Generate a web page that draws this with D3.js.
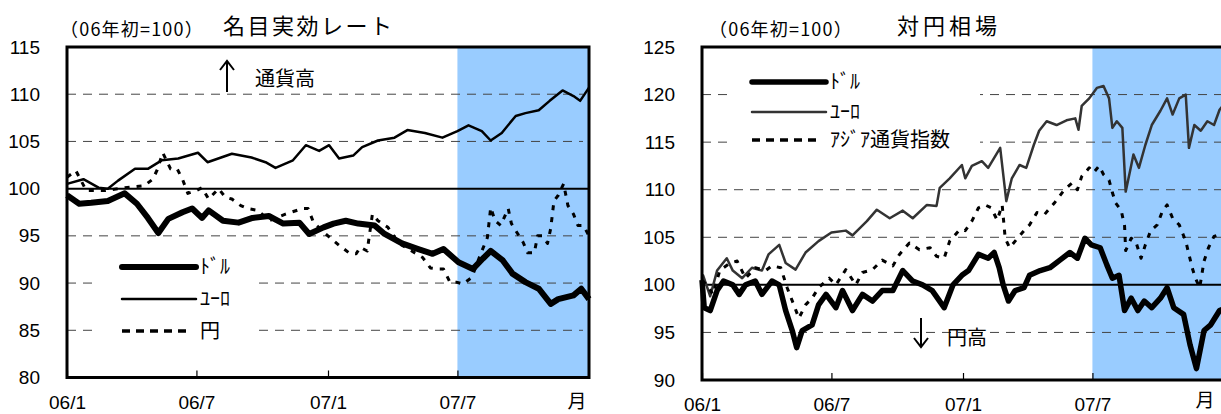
<!DOCTYPE html>
<html><head><meta charset="utf-8">
<script src="https://cdn.jsdelivr.net/npm/d3@7"></script>
<style>
html,body{margin:0;padding:0;background:#fff;}
svg{display:block;}
</style></head>
<body>
<svg id="c" width="1221" height="414"></svg>
<script>
// ---- DATA (months since 2006/1, index = 2006-01 = 0) ----
const yTicksLeft = [80, 85, 90, 95, 100, 105, 110, 115];
const yTicksRight = [90, 95, 100, 105, 110, 115, 120, 125];
const xTickMonths = [0, 6, 12, 18];
const xTickLabels = ["06/1", "06/7", "07/1", "07/7"];
const shadeStartMonth = 18;

// Left: nominal effective rates
const usdNeerM = [0,0.55,1.1,1.93,2.7,3.26,3.77,4.25,4.7,5.35,5.8,6.25,6.55,7.2,7.9,8.55,9.3,9.95,10.7,11.15,11.8,12.25,12.8,13.4,14.2,14.65,15.45,16.2,16.85,17.35,18.05,18.7,19.15,19.5,20.05,20.5,21.1,21.7,22.25,22.6,23.3,23.65,24];
const usdNeerV = [99.3,98.4,98.5,98.7,99.5,98.4,96.9,95.3,96.8,97.5,97.9,96.9,97.7,96.6,96.4,96.9,97.1,96.3,96.4,95.2,95.9,96.3,96.6,96.3,96.1,95.2,94.2,93.6,93.1,93.6,92.2,91.5,92.6,93.4,92.4,91,90.1,89.4,87.8,88.3,88.7,89.4,88.3];
const eurNeerM = [0,0.74,1.47,1.93,2.4,3.17,3.77,4.4,5.15,6.07,6.5,7.6,8.5,9.15,9.6,10.4,11,11.6,12.05,12.5,13.15,13.6,14.35,15.1,15.7,16.5,17.3,18,18.5,19.1,19.5,20,20.65,21.1,21.7,22.2,22.8,23.3,23.6,24];
const eurNeerV = [100.5,101,100.1,100,100.85,102.1,102.1,103,103.2,103.8,102.8,103.7,103.3,102.8,102.2,103,104.6,104,104.6,103.2,103.5,104.4,105.1,105.4,106.2,105.9,105.4,106.1,106.7,106.1,105.1,105.9,107.7,108,108.3,109.3,110.4,109.8,109.3,110.7];
const jpyNeerM = [0,0.4,0.87,1.8,2.7,3.6,4.0,4.2,4.45,4.8,5.1,5.35,5.6,6.0,6.25,6.55,7.0,7.3,7.6,8.0,8.3,8.8,9.3,10.05,10.85,11.1,11.35,11.9,12.5,12.95,13.3,13.5,13.85,14.1,14.35,14.8,15.3,15.9,16.4,16.75,17.1,17.35,17.65,17.95,18.25,18.65,19.05,19.35,19.5,19.7,19.95,20.3,20.45,20.75,21.0,21.2,21.5,21.65,21.85,22.1,22.25,22.4,22.6,22.85,23.05,23.3,23.5,23.75,24];
const jpyNeerV = [101.2,101.9,99.8,99.8,100.1,100.3,101,102,103.8,102.1,102.1,101,99.5,99.8,100.1,98.9,100,99.1,98.9,98.2,97.9,97.7,96.6,97.3,97.9,97.9,96.4,95.2,94,93.2,93.1,93.8,93.4,97.3,96.6,95.9,94.2,93.4,92.7,91.6,91.5,91.5,90.1,90.1,89.9,90.6,93.1,94.8,98,96.6,96.1,97.9,96.3,95.2,94.3,93.2,93.2,95,95,94.2,95.8,98.7,99.3,100.5,98.2,97.3,96.1,96.1,95];

// Right: against yen
const usdJpyM = [0,0.1,0.37,0.68,0.97,1.43,1.75,2.06,2.5,2.8,3.26,3.6,3.9,4.2,4.4,4.65,5.1,5.4,5.75,6.2,6.5,6.95,7.4,7.85,8.3,8.8,9.25,9.7,10.15,10.6,11.15,11.55,11.95,12.25,12.7,13.15,13.45,13.7,13.9,14.15,14.45,14.85,15.1,15.6,16.05,16.5,16.95,17.3,17.65,17.95,18.35,18.65,18.9,19.2,19.45,19.75,20.05,20.35,20.7,21.1,21.4,21.7,22.15,22.45,22.75,23.1,23.4,23.8,24];
const usdJpyV = [100.5,97.6,97.3,99.4,100.4,100,99,100,100.4,99,100.4,100,97.3,95.2,93.4,95.2,95.8,97.9,99,97.6,99.4,97.3,99,98.3,99.4,99.4,101.5,100.4,100,99.4,97.6,100,101,101.5,103.2,102.8,103.4,101.8,100,98.3,99.4,99.7,101,101.5,101.8,102.6,103.4,102.8,104.9,104.2,103.9,102.1,100.7,101,97.3,98.6,97.3,98.3,97.6,98.6,99.7,97.6,96.9,93.7,91.2,95.2,95.8,97.3,97.5];
const eurJpyM = [0,0.05,0.37,0.68,1.13,1.43,1.9,2.35,2.8,3.1,3.6,3.9,4.35,4.8,5.4,6.0,6.65,6.95,7.6,8.05,8.65,9.25,9.7,10.35,10.8,10.95,11.4,11.95,12.1,12.4,12.85,13.15,13.75,14.05,14.3,14.65,14.95,15.3,15.55,15.9,16.35,16.8,17.2,17.35,17.5,17.85,18.2,18.5,18.75,18.9,19.1,19.35,19.5,19.7,19.85,20.1,20.4,20.7,21.1,21.4,21.65,21.95,22.25,22.4,22.65,22.95,23.25,23.55,23.8,24];
const eurJpyV = [100.7,101,98.8,101.5,102.8,101.5,100.7,101.8,101.5,103.2,104.2,102.3,101.6,103.4,104.6,105.5,105.7,105.2,106.7,107.9,107,107.8,107,108.4,108.3,110.2,111.2,112.6,111.2,112.5,113,112.3,114.4,108.8,111.2,112.6,112.3,114.7,116.2,117.2,116.8,117.3,117.5,116.3,118.8,119.6,120.7,120.9,119.6,116.5,117.2,116.5,109.8,112,113.7,112.3,114.7,116.8,118.3,119.6,117.9,119.6,120,114.4,116.8,116.2,117.2,116.8,118.4,119];
const asiaJpyM = [0,0.2,0.5,0.8,1.3,1.65,2.06,2.5,2.97,3.26,3.67,3.97,4.27,4.5,4.8,5.1,5.4,5.9,6.2,6.65,7.1,7.4,7.85,8.3,8.8,9.1,9.55,10.0,10.5,10.8,11.15,11.4,11.85,12.1,12.4,12.7,13.0,13.3,13.6,13.85,14.0,14.2,14.45,14.85,15.1,15.45,15.8,16.25,16.7,17.05,17.3,17.5,17.85,18.05,18.3,18.5,18.75,18.9,19.05,19.3,19.45,19.5,19.75,19.95,20.2,20.4,20.65,20.95,21.2,21.4,21.65,21.95,22.25,22.4,22.55,22.7,22.9,23.1,23.3,23.55,23.8,24];
const asiaJpyV = [100.5,100,99,101.5,102.3,102.5,100.7,101.8,101.5,102,101.8,99.7,97.9,96.5,97.9,98.6,99.7,100.7,100,101.6,100,101.3,101.6,102.6,102,103.2,104.4,103.7,103.9,103,102.8,104.6,105.8,105.7,106.7,108.1,108.4,108.1,106.8,108.4,104.9,103.9,104.6,105.7,106.3,107.6,107.4,108.6,110,110.7,110,111.4,112.3,111.8,112.5,111.6,111,109.7,108.6,107.8,106.2,103.6,104.9,104.6,102.8,104.2,105.7,106.3,107.8,108.4,107,106.3,104.6,103.2,101.8,100.7,99.7,102.5,103.9,105.1,105.3,105.5];

// ---- helpers ----
function mToDate(m){
  const whole = Math.floor(m), frac = m - whole;
  const a = new Date(2006, whole, 1), b = new Date(2006, whole + 1, 1);
  return new Date(a.getTime() + frac * (b - a));
}
function zip(ms, vs){ return ms.map((m,i)=>({d:mToDate(m), v:vs[i]})); }

const svg = d3.select("#c");
const NUMF = '"Liberation Sans Narrow","Arial Narrow","Liberation Sans",sans-serif';
const JPF = '"Noto Sans CJK JP","Noto Sans CJK SC",sans-serif';

function panel(cfg){
  const g = svg.append("g");
  const x = d3.scaleTime().domain([mToDate(0), mToDate(24)]).range([cfg.x0, cfg.x1]);
  const y = d3.scaleLinear().domain(cfg.yDomain).range([cfg.yB, cfg.yT]);
  // shading
  g.append("rect").attr("x", x(mToDate(shadeStartMonth))).attr("y", cfg.yT)
    .attr("width", x(mToDate(24)) - x(mToDate(shadeStartMonth))).attr("height", cfg.yB - cfg.yT)
    .attr("fill", "#99ccff");
  // gridlines
  const grid = cfg.yTicks.filter(v => v !== cfg.yDomain[0] && v !== cfg.yDomain[1] && v !== 100);
  g.selectAll(".grid").data(grid).join("line")
    .attr("x1", cfg.x0).attr("x2", cfg.gridEnd)
    .attr("y1", d => y(d)).attr("y2", d => y(d))
    .attr("stroke", "#444").attr("stroke-width", 1).attr("stroke-dasharray", "9,7");
  // legend background box
  g.append("rect").attr("x", cfg.legBox[0]).attr("y", cfg.legBox[1])
    .attr("width", cfg.legBox[2]).attr("height", cfg.legBox[3]).attr("fill", "#fff");
  // 100 base line
  g.append("line").attr("x1", cfg.x0).attr("x2", cfg.x1).attr("y1", y(100)).attr("y2", y(100))
    .attr("stroke", "#000").attr("stroke-width", 2);
  // series
  const line = d3.line().x(d => x(d.d)).y(d => y(d.v));
  cfg.series.forEach(s => {
    g.append("path").datum(zip(s.m, s.v)).attr("d", line)
      .attr("fill", "none").attr("stroke", s.color).attr("stroke-width", s.w)
      .attr("stroke-linejoin", "round")
      .attr("stroke-dasharray", s.dash || null);
  });
  // frame
  g.append("rect").attr("x", cfg.x0).attr("y", cfg.yT).attr("width", cfg.x1 - cfg.x0)
    .attr("height", cfg.yB - cfg.yT).attr("fill", "none").attr("stroke", "#000").attr("stroke-width", 3);
  // x axis ticks (inward)
  const xa = d3.axisBottom(x).tickValues(xTickMonths.map(mToDate)).tickSize(-7)
    .tickFormat((d,i) => xTickLabels[i]).tickPadding(14);
  const xg = g.append("g").attr("transform", `translate(0,${cfg.yB})`).call(xa);
  xg.select(".domain").remove();
  xg.selectAll(".tick line").attr("stroke", "#000").attr("stroke-width", 1.2);
  xg.selectAll(".tick text").attr("font-family", NUMF).attr("font-size", 19).attr("fill", "#000")
    .attr("dy", null).attr("y", cfg.xLabY - cfg.yB);
  g.append("text").attr("x", cfg.monthX).attr("y", cfg.monthY).attr("text-anchor", "middle")
    .attr("font-family", JPF).attr("font-size", 19).text("月");
  // y axis labels
  const ya = d3.axisLeft(y).tickValues(cfg.yTicks).tickSize(0).tickPadding(cfg.x0 - cfg.yLabX);
  const yg = g.append("g").attr("transform", `translate(${cfg.x0},0)`).call(ya);
  yg.select(".domain").remove();
  yg.selectAll(".tick text").attr("font-family", NUMF).attr("font-size", 19).attr("fill", "#000");
  // titles
  g.append("text").attr("x", cfg.subX).attr("y", 36).attr("font-family", JPF).attr("font-size", 18)
    .attr("letter-spacing", 1.2).text("（06年初=100）");
  g.append("text").attr("x", cfg.titleX).attr("y", 34).attr("font-family", JPF).attr("font-size", 22)
    .attr("letter-spacing", cfg.titleLS).text(cfg.title);
  // legend
  cfg.series.forEach((s, i) => {
    const ly = cfg.legY[i];
    g.append("line").attr("x1", cfg.legX0).attr("x2", s.dash ? cfg.legX1 - 5 : cfg.legX1)
      .attr("y1", ly).attr("y2", ly).attr("stroke", s.color)
      .attr("stroke-width", s.dash ? 3.5 : s.w).attr("stroke-linecap", s.dash ? "butt" : "round")
      .attr("stroke-dasharray", s.dash ? "8,6" : null);
    g.append("text").attr("x", cfg.legX1 + 4).attr("y", ly + 7).attr("font-family", JPF)
      .attr("font-size", 20).text(s.name);
  });
  return {g, x, y};
}

// Left panel
const L = panel({
  x0: 67, x1: 589, yT: 47, yB: 377.5, yDomain: [80, 115], yTicks: yTicksLeft, gridEnd: 583,
  yLabX: 40, xLabY: 409, monthX: 577, monthY: 408, subX: 60, titleX: 223, titleLS: 2.5, title: "名目実効レート",
  legBox: [97, 250, 156, 95], legX0: 122, legX1: 196, legY: [267, 299, 331],
  series: [
    {name: "ﾄﾞﾙ", m: usdNeerM, v: usdNeerV, color: "#000", w: 6},
    {name: "ﾕｰﾛ", m: eurNeerM, v: eurNeerV, color: "#000", w: 2.5},
    {name: "円", m: jpyNeerM, v: jpyNeerV, color: "#000", w: 3, dash: "5,7"}
  ]
});
// annotation: up arrow
L.g.append("line").attr("x1", 227).attr("x2", 227).attr("y1", 62).attr("y2", 92).attr("stroke", "#000").attr("stroke-width", 2);
L.g.append("path").attr("d", "M220,70 L227,61 L234,70").attr("fill", "none").attr("stroke", "#000").attr("stroke-width", 2);
L.g.append("text").attr("x", 255).attr("y", 86).attr("font-family", JPF).attr("font-size", 20).text("通貨高");

// Right panel
const R = panel({
  x0: 702, x1: 1224, yT: 47, yB: 380, yDomain: [90, 125], yTicks: yTicksRight, gridEnd: 1224,
  yLabX: 675, xLabY: 411, monthX: 1205, monthY: 407, subX: 709, titleX: 897, titleLS: 4, title: "対円相場",
  legBox: [727, 62, 253, 95], legX0: 752, legX1: 826, legY: [82, 112, 140],
  series: [
    {name: "ﾄﾞﾙ", m: usdJpyM, v: usdJpyV, color: "#000", w: 5.5},
    {name: "ﾕｰﾛ", m: eurJpyM, v: eurJpyV, color: "#333", w: 2.5},
    {name: "ｱｼﾞｱ通貨指数", m: asiaJpyM, v: asiaJpyV, color: "#000", w: 3, dash: "5,7"}
  ]
});
R.g.append("line").attr("x1", 921).attr("x2", 921).attr("y1", 318).attr("y2", 346).attr("stroke", "#000").attr("stroke-width", 2);
R.g.append("path").attr("d", "M914,338 L921,347 L928,338").attr("fill", "none").attr("stroke", "#000").attr("stroke-width", 2);
R.g.append("text").attr("x", 947).attr("y", 345).attr("font-family", JPF).attr("font-size", 20).text("円高");
</script>
</body></html>
